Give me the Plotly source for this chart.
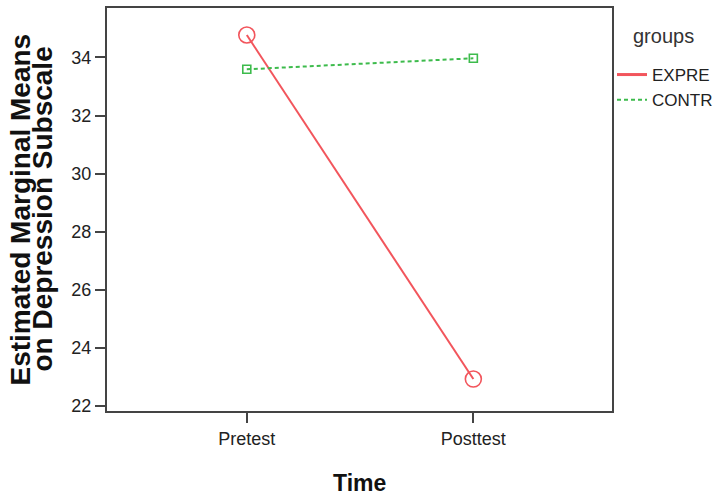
import plotly.graph_objects as go

time_labels = ["Pretest", "Posttest"]
group_names = ["EXPRE", "CONTR"]
expre_means = [34.77, 22.93]
contr_means = [33.59, 33.97]
y_ticks = [22, 24, 26, 28, 30, 32, 34]

RED = "#f2555c"
GREEN = "#3dbb4c"
FRAME = "#444444"
REG = "Liberation Sans, Arial, sans-serif"

W, H = 714, 500
ML, MR, MT, MB = 107, 102, 8, 89
plot_w = W - ML - MR
plot_h = H - MT - MB

def px_x(x):
    return (x - ML) / plot_w

def px_y(y):
    return (H - MB - y) / plot_h

fig = go.Figure()
fig.add_trace(go.Scatter(
    x=time_labels, y=expre_means, name=group_names[0], mode="lines+markers",
    line=dict(color=RED, width=2), showlegend=False,
    marker=dict(symbol="circle-open", size=16, color=RED, line=dict(width=1.6)),
))
fig.add_trace(go.Scatter(
    x=time_labels, y=contr_means, name=group_names[1], mode="lines+markers",
    line=dict(color=GREEN, width=2, dash="4px,3px"), showlegend=False,
    marker=dict(symbol="square-open", size=8, color=GREEN, line=dict(width=1.6)),
))
# legend entries (lines only, like the reference)
fig.add_trace(go.Scatter(x=[None], y=[None], name=group_names[0], mode="lines",
                         line=dict(color=RED, width=3)))
fig.add_trace(go.Scatter(x=[None], y=[None], name=group_names[1], mode="lines",
                         line=dict(color=GREEN, width=2, dash="4px,3px")))

fig.update_layout(
    width=W, height=H,
    margin=dict(l=ML, r=MR, t=MT, b=MB, autoexpand=False),
    paper_bgcolor="white", plot_bgcolor="white",
    font=dict(family=REG, size=18, color="#222222"),
    showlegend=True,
    legend=dict(
        x=1.0, xanchor="left", y=px_y(57), yanchor="top",
        font=dict(size=17, family=REG, color="#222222"),
        bgcolor="rgba(0,0,0,0)", itemwidth=30, tracegroupgap=0,
    ),
    xaxis=dict(
        type="category", range=[-0.617, 1.612], automargin=False,
        showline=True, linecolor=FRAME, linewidth=2, mirror=True,
        ticks="outside", ticklen=10, tickwidth=2, tickcolor=FRAME,
        showgrid=False, zeroline=False,
        tickfont=dict(size=18, family=REG, color="#222222"),
    ),
    yaxis=dict(
        range=[21.83, 35.70], tickvals=y_ticks, automargin=False,
        showline=True, linecolor=FRAME, linewidth=2, mirror=True,
        ticks="outside", ticklen=10, tickwidth=2, tickcolor=FRAME,
        showgrid=False, zeroline=False,
        tickfont=dict(size=18, family=REG, color="#222222"),
    ),
    annotations=[
        dict(text="groups", x=px_x(663), xref="paper", xanchor="center",
             y=px_y(36), yref="paper", yanchor="middle", showarrow=False,
             font=dict(size=20, family=REG, color="#333333")),
        dict(text="<b>Estimated Marginal Means</b>",
             x=px_x(20), xref="paper", xanchor="center", y=0.5, yref="paper", yanchor="middle",
             textangle=-90, showarrow=False, font=dict(size=28, family=REG, color="#111111")),
        dict(text="<b>on Depression Subscale</b>",
             x=px_x(42), xref="paper", xanchor="center", y=0.5, yref="paper", yanchor="middle",
             textangle=-90, showarrow=False, font=dict(size=28, family=REG, color="#111111")),
        dict(text="<b>Time</b>", x=0.5, xref="paper", y=px_y(483), yref="paper",
             yanchor="middle", showarrow=False,
             font=dict(size=23, family=REG, color="#111111")),
    ],
)

fig.write_html("out.html", config={"displayModeBar": False},
               post_script="document.body.style.margin='0';")
